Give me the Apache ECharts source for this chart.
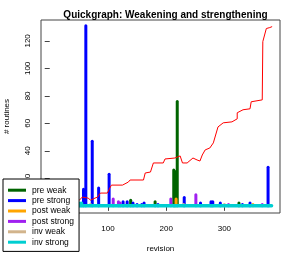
<!DOCTYPE html>
<html><head><meta charset="utf-8">
<script src="https://cdn.jsdelivr.net/npm/echarts@6/dist/echarts.min.js"></script>
<style>html,body{margin:0;padding:0;background:#fff}#c{width:294px;height:254px}</style>
</head><body><div id="c"></div>
<script>
// ---- data ----
const xTicks = [0, 100, 200, 300];
const yTicks = [0, 20, 40, 60, 80, 100, 120];
const seriesNames = ['pre weak', 'pre strong', 'post weak', 'post strong', 'inv weak', 'inv strong'];
const seriesColors = ['#006400', '#0000FF', '#FFA500', '#A020F0', '#D2B48C', '#00CED1'];
// [revision, count]
const preWeak = [[139, 4], [181, 3], [213, 26], [215, 25], [219, 76], [325, 2]];
const preStrong = [[58, 12], [62, 131], [73, 47], [84, 13], [102, 23], [126, 3], [133, 3], [143, 2], [150, 1], [158, 1], [162, 2], [186, 1],
  [231, 6], [259, 2], [277, 3], [280, 3], [293, 2], [331, 1], [344, 2], [375, 28]];
const postWeak = [[217, 5], [349, 1]];
const postStrong = [[109, 5], [118, 3], [121, 2], [208, 5], [251, 8], [307, 1], [365, 1]];
const invWeak = [[70, 1], [230, 1], [300, 1]];
const invStrong = [[52, 2], [55, 2]];
const invStrongBase = [[1, 0], [381, 0]];
const routines = [[1, 2], [20, 3], [40, 4], [51, 4.2], [56, 6.4], [66, 5.6], [70, 4.2], [82, 6.4], [87, 9.3], [99, 9.3], [100, 10], [104, 13.6],
  [106, 15.1], [125, 15.1], [135, 17.3], [138, 18.8], [161, 18.8], [164, 23.9], [173, 24.6], [178, 31.2], [195, 31.2], [198, 34.1],
  [215, 34.8], [224, 36.3], [228, 31.2], [236, 31.2], [238, 31.9], [246, 34.8], [253, 33.4], [258, 32.6], [262, 37], [267, 40.7],
  [275, 42.1], [281, 45.8], [289, 57.4], [298, 60.4], [313, 61.1], [322, 63.3], [322, 67.7], [332, 69.9], [344, 70.6], [346, 75.7],
  [365, 77.1], [366, 119.5], [372, 129], [378, 129.7], [382, 130.4]];
const seriesData = [preWeak, preStrong, postWeak, postStrong, invWeak, invStrong];

const FONT = 'Liberation Sans, Arial, sans-serif';
const chart = echarts.init(document.getElementById('c'), null, {renderer: 'canvas'});

function spikeSeries(name, color, data) {
  return {
    name, type: 'custom', data, itemStyle: {color}, animation: false,
    renderItem: (params, api) => {
      const x = api.value(0), v = api.value(1);
      const p0 = api.coord([x, 0]), p1 = api.coord([x, v]);
      return {type: 'line', shape: {x1: p0[0], y1: p0[1], x2: p1[0], y2: p1[1]},
        style: {stroke: color, lineWidth: 3, lineCap: 'round'}};
    }
  };
}

const series = seriesNames.map((n, i) => spikeSeries(n, seriesColors[i], seriesData[i]));
series.push({type: 'line', name: 'inv strong base', data: invStrongBase, symbol: 'none', silent: true,
  lineStyle: {color: seriesColors[5], width: 3.5, cap: 'round'}, animation: false});
series.push({type: 'line', name: 'routines', data: routines, symbol: 'none',
  lineStyle: {color: '#FF0000', width: 1}, animation: false});

chart.setOption({
  animation: false,
  backgroundColor: '#fff',
  title: {text: 'Quickgraph: Weakening and strengthening', left: 160.5, top: 5, textAlign: 'center',
    textStyle: {fontFamily: FONT, fontSize: 10, fontWeight: 'bold', color: '#000'}},
  grid: {left: 41, right: 14, top: 20, bottom: 41, show: true, borderColor: '#444', borderWidth: 1,
    backgroundColor: 'transparent', containLabel: false, outerBoundsMode: 'none'},
  legend: {
    data: seriesNames.map(n => ({name: n, icon: 'rect'})),
    orient: 'vertical', left: 3, top: 179, itemWidth: 18, itemHeight: 3, itemGap: 0,
    padding: [6, 5, 4, 5], backgroundColor: '#fff', borderColor: '#000', borderWidth: 1, borderRadius: 0,
    textStyle: {fontFamily: FONT, fontSize: 8.5, color: '#000', lineHeight: 10.4, padding: [0, 0, 0, 1]},
    selectedMode: false, z: 10
  },
  xAxis: {type: 'value', min: -15, max: 395.5, splitLine: {show: false},
    axisLine: {show: false},
    axisTick: {show: true, inside: false, length: 5, lineStyle: {color: '#444'}, customValues: xTicks},
    axisLabel: {fontFamily: FONT, fontSize: 8, color: '#000', margin: 12, customValues: xTicks},
    name: 'revision', nameLocation: 'middle', nameGap: 32,
    nameTextStyle: {fontFamily: FONT, fontSize: 8, color: '#000'}},
  yAxis: {type: 'value', min: -5.2, max: 135.2, splitLine: {show: false},
    axisLine: {show: false},
    axisTick: {show: true, inside: false, length: 5, lineStyle: {color: '#444'}, customValues: yTicks},
    axisLabel: {fontFamily: FONT, fontSize: 8, color: '#000', margin: 9, rotate: 90, customValues: yTicks},
    name: '# routines', nameLocation: 'middle', nameGap: 30, nameRotate: 90,
    nameTextStyle: {fontFamily: FONT, fontSize: 8, color: '#000'}},
  series
});
</script></body></html>
